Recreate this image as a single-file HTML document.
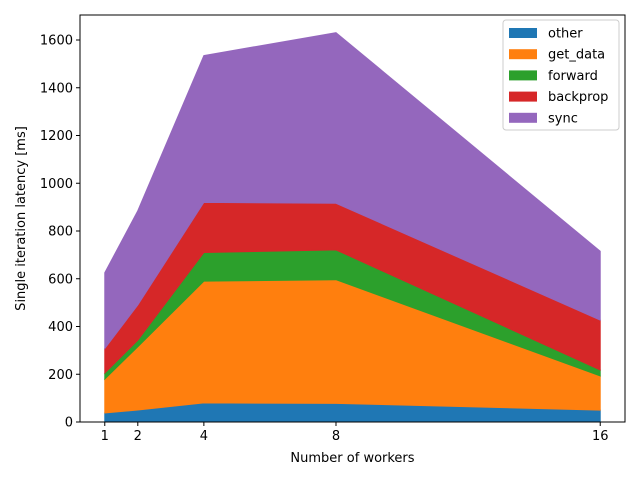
<!DOCTYPE html>
<html><head><meta charset="utf-8"><style>
body{margin:0;background:#fff;font-family:"Liberation Sans","DejaVu Sans",sans-serif}
svg text{font-family:"DejaVu Sans","Liberation Sans",sans-serif;font-size:13px;fill:#000}
</style></head><body>
<svg id="chart" width="640" height="480"></svg>
<script>
const workers=[1,2,4,8,16];
const seriesNames=["other","get_data","forward","backprop","sync"];
const colors=["#1f77b4","#ff7f0e","#2ca02c","#d62728","#9467bd"];
const other=[38,50,80,78,50];
const getData=[142,265,510,518,143];
const forward=[25,28,120,125,25];
const backprop=[103,147,210,195,209];
const sync=[317,395,615,715,288];
const xTicks=[1,2,4,8,16];
const yTicks=[0,200,400,600,800,1000,1200,1400,1600];
const series=[other,getData,forward,backprop,sync];
const L=80,R=625,T=15,B=422;
const xs=v=>L+(v-0.25)/16.5*(R-L);
const ys=v=>B-v*0.23875;
const svg=document.getElementById('chart');
const NS="http://www.w3.org/2000/svg";
function mk(t,a,p){const e=document.createElementNS(NS,t);for(const k in a)e.setAttribute(k,a[k]);(p||svg).appendChild(e);return e;}
let base=workers.map(()=>0);
series.forEach((s,i)=>{
  const top=base.map((b,j)=>b+s[j]);
  let d=workers.map((w,j)=>(j?'L':'M')+xs(w)+','+ys(top[j])).join('');
  for(let j=workers.length-1;j>=0;j--)d+='L'+xs(workers[j])+','+ys(base[j]);
  const p=mk('path',{d:d+'Z',fill:colors[i],stroke:colors[i],'stroke-width':1});
  
  
  base=top;
});
const frame=mk('rect',{x:L,y:T,width:R-L,height:B-T,fill:'none',stroke:'#000','stroke-width':1});


xTicks.forEach(v=>{
  mk('line',{x1:xs(v),x2:xs(v),y1:B,y2:B+4,stroke:'#000'});
  const t=mk('text',{x:xs(v),y:B+18,'text-anchor':'middle'});t.textContent=v;
  
  
});
yTicks.forEach(v=>{
  mk('line',{x1:L-4,x2:L,y1:ys(v),y2:ys(v),stroke:'#000'});
  const t=mk('text',{x:L-7,y:ys(v)+4.5,'text-anchor':'end'});t.textContent=v;
  
  
});
const xl=mk('text',{x:(L+R)/2,y:462,'text-anchor':'middle'});xl.textContent='Number of workers';


const yl=mk('text',{x:0,y:0,'text-anchor':'middle',transform:'translate(25,'+(T+B)/2+') rotate(-90)'});yl.textContent='Single iteration latency [ms]';


const lg=mk('g',{});


mk('rect',{x:503,y:20,width:116,height:110,rx:3,fill:'#fff','fill-opacity':0.8,stroke:'#ccc'},lg);
seriesNames.forEach((n,i)=>{
  const y=33+i*21.2;
  mk('rect',{x:509,y:y-5,width:28,height:10,fill:colors[i]},lg);
  const t=mk('text',{x:548,y:y+4.5},lg);t.textContent=n;
  
  
});
</script>
</body></html>
